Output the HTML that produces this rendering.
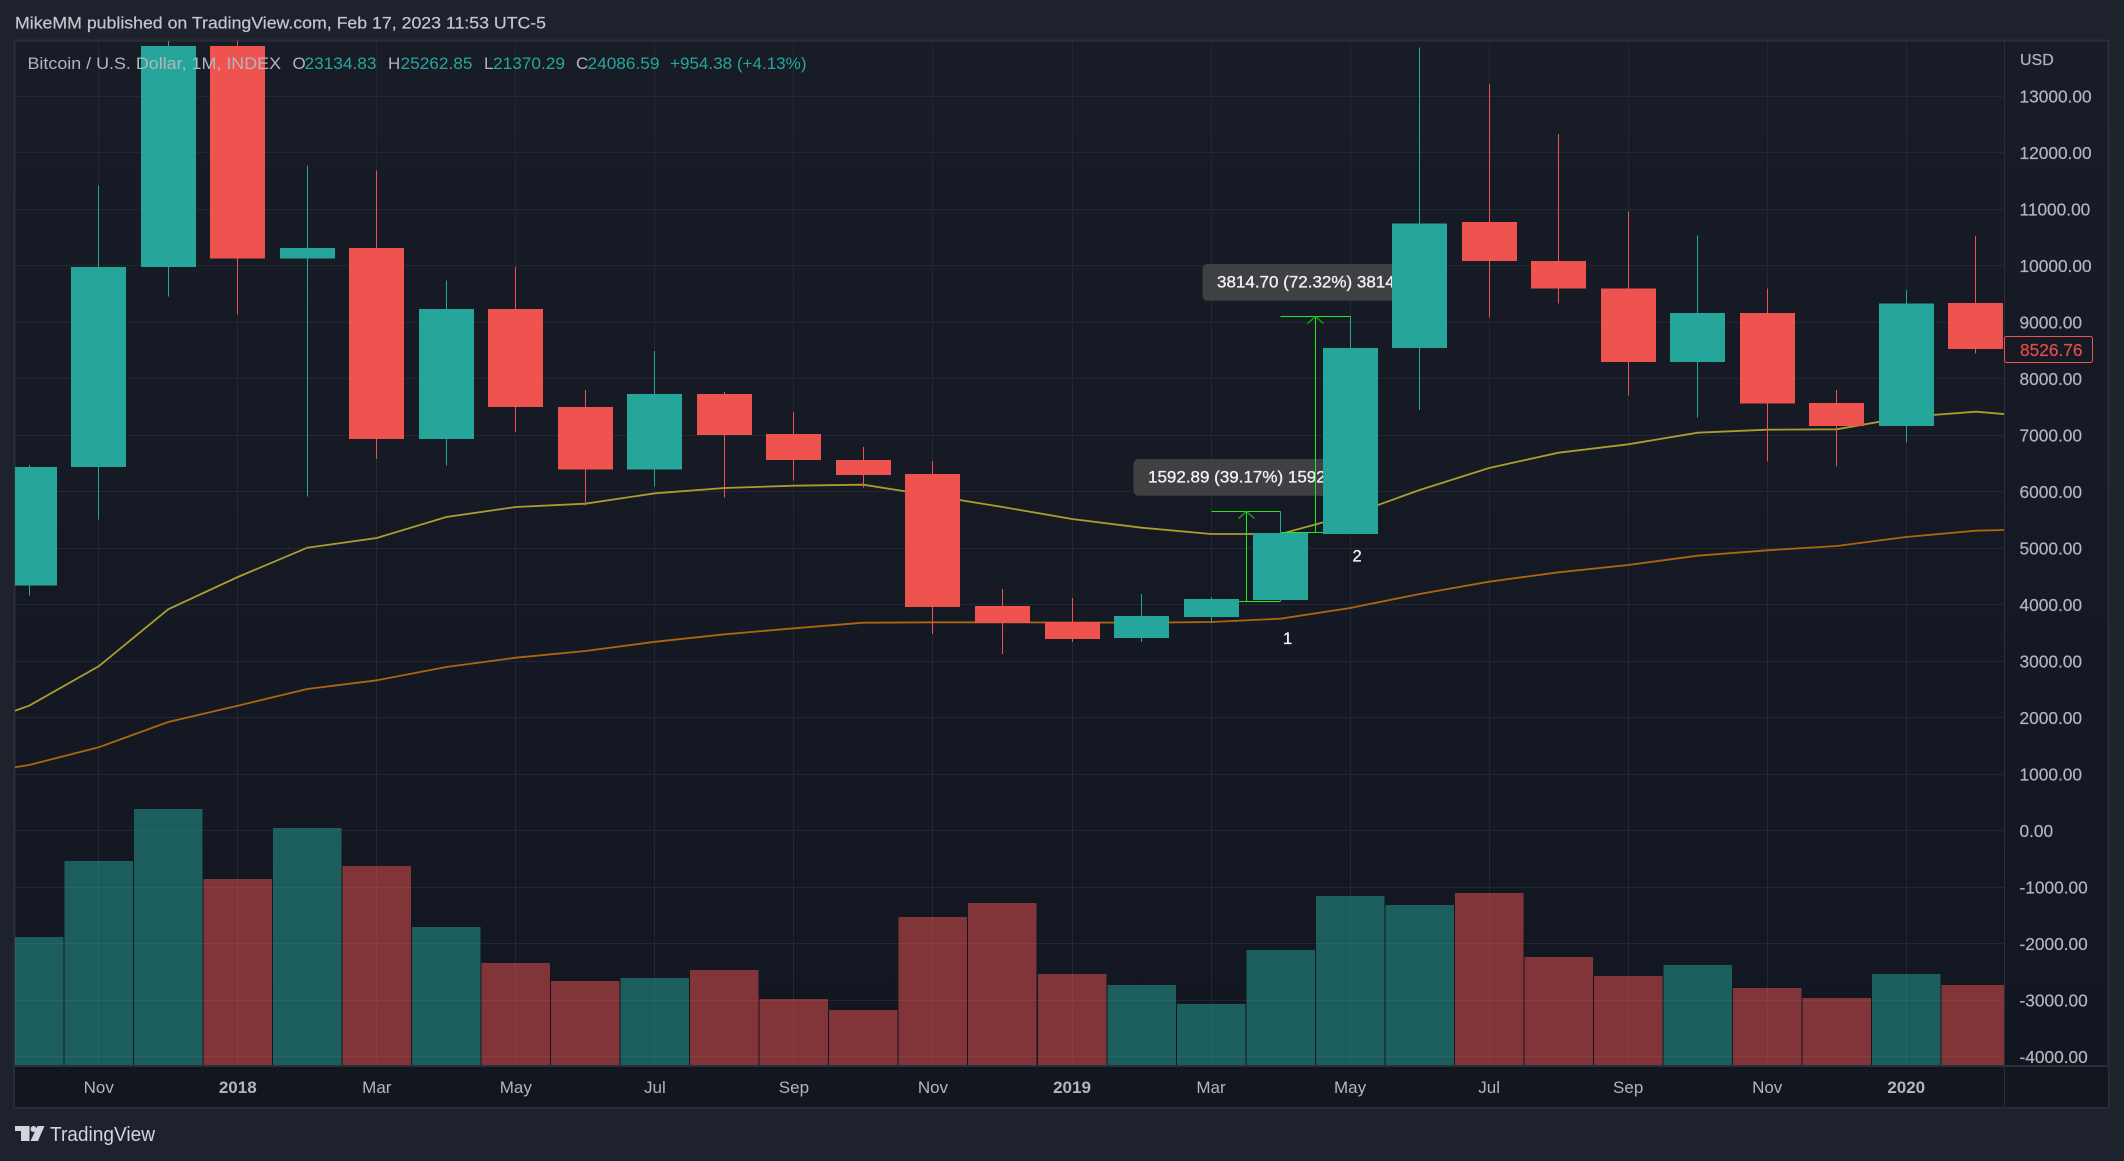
<!DOCTYPE html>
<html lang="en">
<head>
<meta charset="utf-8">
<title>Bitcoin / U.S. Dollar monthly chart</title>
<style>
html,body{margin:0;padding:0;background:#1e222d;width:2124px;height:1161px;overflow:hidden}
svg{display:block;font-family:"Liberation Sans",sans-serif}
text{dominant-baseline:central}
</style>
</head>
<body>
<svg id="chart" xmlns="http://www.w3.org/2000/svg" width="2124" height="1161" viewBox="0 0 2124 1161">
  <defs>
    <linearGradient id="paneBg" x1="0" y1="0" x2="0" y2="1">
      <stop offset="0" stop-color="#181c27"/>
      <stop offset="1" stop-color="#121620"/>
    </linearGradient>
    <clipPath id="plotClip"><rect x="15" y="41" width="1989" height="1024"/></clipPath>
  </defs>
  <rect x="0" y="0" width="2124" height="1161" fill="#1e222d"/>
  <text x="15" y="23" font-size="17" fill="#c4c7cf" stroke="#c4c7cf" stroke-width="0.2" textLength="531" lengthAdjust="spacingAndGlyphs">MikeMM published on TradingView.com, Feb 17, 2023 11:53 UTC-5</text>
  <rect x="14.5" y="40.5" width="2094" height="1067" fill="url(#paneBg)" stroke="#2a2e39" stroke-width="2"/>
  <g id="gridLayer"></g>
  <g clip-path="url(#plotClip)">
    <g id="volumeLayer"></g>
    <g id="maLayer"></g>
    <g id="measureLayer"></g>
    <g id="candleLayer"></g>
    <g id="noteLayer"></g>
  </g>
  <rect x="15" y="1067" width="2093" height="40" fill="#12161f"/>
  <line x1="2004.5" y1="41" x2="2004.5" y2="1107" stroke="#2a2e39" stroke-width="1"/>
  <line x1="15" y1="1066" x2="2108" y2="1066" stroke="#2a2e39" stroke-width="2"/>
  <g id="axisLayer"></g>
  <text x="2020" y="60.5" font-size="16" fill="#b2b5be" stroke="#b2b5be" stroke-width="0.2">USD</text>
  <rect x="2004.5" y="336.5" width="88" height="26" rx="2" fill="#161a25" stroke="#ef5350" stroke-width="1"/>
  <text x="2020" y="350" font-size="17.3" fill="#e04f4d" stroke="#e04f4d" stroke-width="0.2">8526.76</text>
  <g font-size="17">
    <text x="27.5" y="63.3" fill="#b2b5be" textLength="253.5" lengthAdjust="spacingAndGlyphs">Bitcoin / U.S. Dollar, 1M, INDEX</text>
    <text x="292.5" y="63.3" fill="#b2b5be">O</text>
    <text x="304.5" y="63.3" fill="#26a69a" textLength="72" lengthAdjust="spacingAndGlyphs">23134.83</text>
    <text x="388" y="63.3" fill="#b2b5be">H</text>
    <text x="400.5" y="63.3" fill="#26a69a" textLength="72" lengthAdjust="spacingAndGlyphs">25262.85</text>
    <text x="484" y="63.3" fill="#b2b5be">L</text>
    <text x="493" y="63.3" fill="#26a69a" textLength="72" lengthAdjust="spacingAndGlyphs">21370.29</text>
    <text x="576" y="63.3" fill="#b2b5be">C</text>
    <text x="587.5" y="63.3" fill="#26a69a" textLength="72" lengthAdjust="spacingAndGlyphs">24086.59</text>
    <text x="670" y="63.3" fill="#26a69a" textLength="136.5" lengthAdjust="spacingAndGlyphs">+954.38 (+4.13%)</text>
  </g>
  <g>
    <polygon points="15,1126 29.5,1126 29.5,1141 21,1141 21,1131 15,1131" fill="#d1d4dc"/>
    <circle cx="33.5" cy="1129" r="3" fill="#d1d4dc"/>
    <polygon points="37.5,1126 44.5,1126 38,1141 30.5,1141" fill="#d1d4dc"/>
    <text x="50" y="1135" font-size="20" fill="#d1d4dc" textLength="105" lengthAdjust="spacingAndGlyphs">TradingView</text>
  </g>
</svg>
<script>
// Chart data
const opens  = [4338,6438,9980,13890,10126,10317,6936,9239,7501,6391,7731,7023,6563,6315,3979,3695,3412,3784,4085,5253,8545,10772,10085,9598,8297,9164,7571,7164,9341];
const closes = [6438,9980,13890,10126,10317,6936,9239,7501,6391,7731,7005,6563,6297,3961,3677,3394,3801,4102,5270,8545,10749,10085,9598,8297,9164,7559,7164,9334,8526.76];
const highs  = [6474,11419,19000,17000,11779,11683,9741,9980,7802,8495,7766,7412,6793,6545,4279,4120,4191,4137,5647,9111,13865,13217,12333,10964,10533,9598,7802,9572,10527];
const lows   = [4161,5506,9453,9141,5913,6580,6462,7056,5754,6090,5895,6196,6072,3483,3129,3341,3341,3683,4067,5253,7448,9081,9334,7701,7311,6532,6444,6869,8444];
const volumes = [128,204,256,186,237,199,138,102,84,87,95,66,55,148,162,91,80,61,115,169,160,172,108,89,100,77,67,91,80];
const volumeUp = [1,1,1,0,1,0,1,0,0,1,0,0,0,0,0,0,1,1,1,1,1,0,0,0,1,0,0,1,0];
// Moving averages start one month before the first candle and end one month after the last
const maFast = [1784,2214,2911,3920,4492,5010,5182,5554,5731,5789,5973,6067,6108,6125,5931,5731,5518,5364,5253,5253,5589,6032,6421,6692,6840,7046,7099,7106,7324,7417,7315];
const maSlow = [969,1164,1477,1925,2214,2509,2663,2899,3063,3182,3346,3477,3584,3683,3690,3690,3687,3683,3695,3754,3943,4191,4408,4575,4704,4869,4964,5040,5200,5311,5341];
const priceTicks = [13000,12000,11000,10000,9000,8000,7000,6000,5000,4000,3000,2000,1000,0,-1000,-2000,-3000,-4000];
const timeTickIndex = [1,3,5,7,9,11,13,15,17,19,21,23,25,27];
const timeTickLabels = ["Nov","2018","Mar","May","Jul","Sep","Nov","2019","Mar","May","Jul","Sep","Nov","2020"];
const timeTickBold = [0,1,0,0,0,0,0,1,0,0,0,0,0,1];
const measureStart = [17,18];
const measureEnd = [18,19];
const measureLow = [4067,5280];
const measureHigh = [5660,9095];
const measureLabels = ["1592.89 (39.17%) 1592","3814.70 (72.32%) 3814"];
const noteIndex = [18,19];
const noteLabels = ["1","2"];
const notePrice = [3394,4851];

// Axis functions
function xAt(i){ return 29.2 + 69.52 * i; }
function yAt(v){ return 96.3 + (13000 - v) * 0.0565; }
function volY(v){ return 1065 - v; }

const NS = "http://www.w3.org/2000/svg";
function mk(tag, parent, props){
  const e = document.createElementNS(NS, tag);
  for (const k in props) e.setAttribute(k, props[k]);
  parent.appendChild(e);
  return e;
}
function half(v){ return Math.floor(v) + 0.5; }
const gridLayer = document.getElementById("gridLayer");
const volumeLayer = document.getElementById("volumeLayer");
const maLayer = document.getElementById("maLayer");
const measureLayer = document.getElementById("measureLayer");
const candleLayer = document.getElementById("candleLayer");
const noteLayer = document.getElementById("noteLayer");
const axisLayer = document.getElementById("axisLayer");

// Grid and price axis
priceTicks.forEach(function(t){
  const py = half(yAt(t));
  const g = mk("line", gridLayer, {x1:15, x2:2004, y1:py, y2:py, stroke:"#232732", "stroke-width":1});
  
  
  const lab = mk("text", axisLayer, {x:2019.5, y:yAt(t), "font-size":17.3, fill:"#b2b5be", stroke:"#b2b5be", "stroke-width":0.2});
  
  
  lab.textContent = t.toFixed(2);
});

// Time axis
timeTickIndex.forEach(function(idx, n){
  const px = half(xAt(idx));
  const g = mk("line", gridLayer, {x1:px, x2:px, y1:41, y2:1065, stroke:"#232732", "stroke-width":1});
  
  
  const lab = mk("text", axisLayer, {x:xAt(idx), y:1087.5, "font-size":17, "text-anchor":"middle", fill:"#b2b5be", "font-weight":timeTickBold[n] ? "bold" : "normal"});
  
  
  lab.textContent = timeTickLabels[n];
});

// Volume histogram
volumes.forEach(function(v, i){
  const r = mk("rect", volumeLayer, {x:xAt(i) - 34.25, y:volY(v), width:68.5, height:1065 - volY(v), fill:volumeUp[i] ? "#26a69a" : "#ef5350", "fill-opacity":0.5, "shape-rendering":"crispEdges"});
  
  
});

// Moving averages
function maPoints(arr){
  return arr.map(function(v, k){ return xAt(k - 1).toFixed(1) + "," + yAt(v).toFixed(1); }).join(" ");
}
const fastLine = mk("polyline", maLayer, {points:maPoints(maFast), fill:"none", stroke:"#aa9d30", "stroke-width":1.8});


const slowLine = mk("polyline", maLayer, {points:maPoints(maSlow), fill:"none", stroke:"#ab670f", "stroke-width":1.8});



// Measure tools
measureStart.forEach(function(s, n){
  const x0 = half(xAt(s)), x1 = half(xAt(measureEnd[n])), mx = half((x0 + x1) / 2);
  const yL = half(yAt(measureLow[n])), yH = half(yAt(measureHigh[n]));
  const box = mk("rect", measureLayer, {x:mx - 113, y:yH - 52.5, width:226, height:36.7, rx:5, fill:"#3e4041"});
  
  
  const txt = mk("text", measureLayer, {x:mx - 98.5, y:yH - 34.5, "font-size":17, fill:"#eef0f5", stroke:"#eef0f5", "stroke-width":0.35});
  
  
  txt.textContent = measureLabels[n];
  const top = mk("line", measureLayer, {x1:x0, x2:x1, y1:yH, y2:yH, stroke:"#1fe81f", "stroke-width":1});
  
  
  const bottom = mk("line", measureLayer, {x1:x0, x2:x1, y1:yL, y2:yL, stroke:"#1fe81f", "stroke-width":1});
  
  
  const shaft = mk("line", measureLayer, {x1:mx, x2:mx, y1:yH, y2:yL, stroke:"#1fe81f", "stroke-width":1});
  
  
  const head = mk("polyline", measureLayer, {points:(mx - 8) + "," + (yH + 7) + " " + mx + "," + yH + " " + (mx + 8) + "," + (yH + 7), fill:"none", stroke:"#15b015", "stroke-width":1.2});
  
  
});

// Candles
opens.forEach(function(o, i){
  const c = closes[i];
  const color = c >= o ? "#26a69a" : "#ef5350";
  const cx = xAt(i);
  const wickTop = yAt(highs[i]), wickBottom = yAt(lows[i]);
  const wick = mk("rect", candleLayer, {x:Math.floor(cx), y:wickTop, width:1, height:wickBottom - wickTop, fill:color, "shape-rendering":"crispEdges"});
  
  
  const bodyTop = yAt(Math.max(o, c)), bodyBottom = yAt(Math.min(o, c));
  const body = mk("rect", candleLayer, {x:Math.round(cx - 27.5), y:bodyTop, width:55, height:bodyBottom - bodyTop, fill:color, "shape-rendering":"crispEdges"});
  
  
});

// Numbered notes under candles
noteLabels.forEach(function(label, n){
  const t = mk("text", noteLayer, {x:xAt(noteIndex[n]) + 7, y:yAt(notePrice[n]), "font-size":16.5, "text-anchor":"middle", fill:"#f2f3f6", stroke:"#f2f3f6", "stroke-width":0.3});
  
  
  t.textContent = label;
});
</script>
</body>
</html>
